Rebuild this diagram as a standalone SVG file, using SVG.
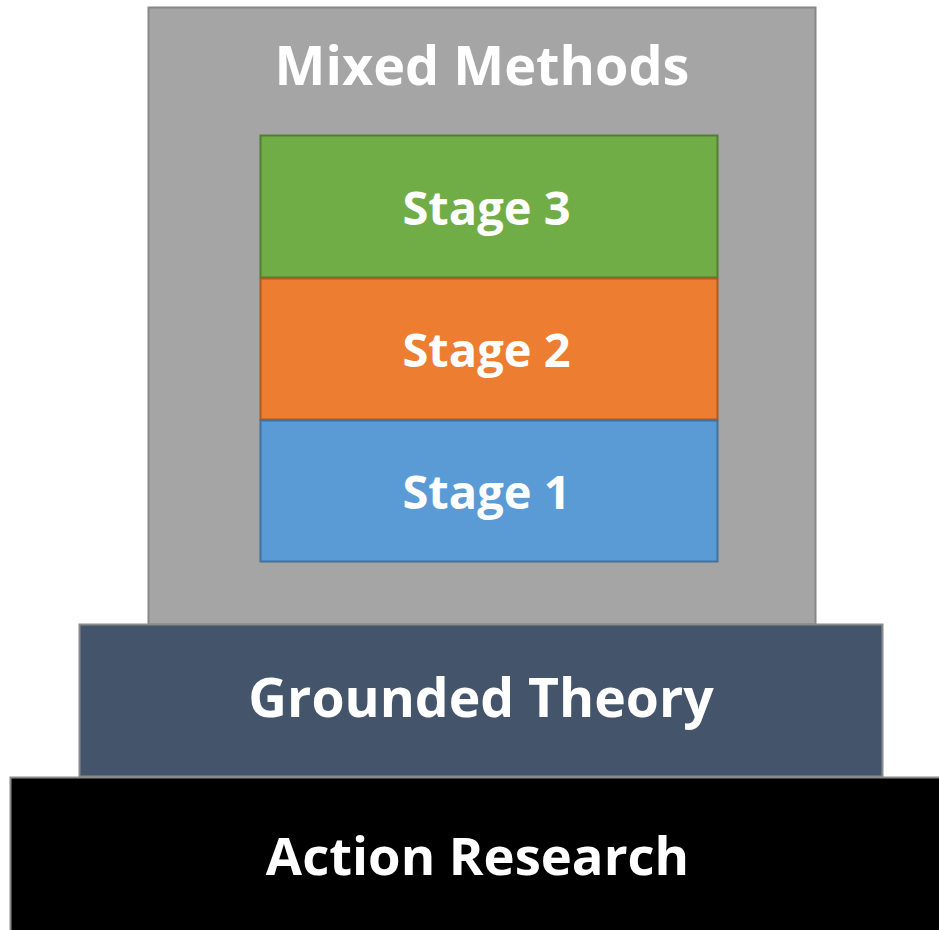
<svg xmlns="http://www.w3.org/2000/svg" width="939" height="930" viewBox="0 0 939 930">
  <style>
    .lbl { font-family: "Open Sans", "Liberation Sans", sans-serif; font-weight: bold; fill: #ffffff; text-anchor: middle; }
    .stage { font-size: 47px; }
  </style>
  <rect width="939" height="930" fill="#ffffff"/>
  <g id="mixed-methods">
    <rect x="148.5" y="7.5" width="667" height="617" fill="#a5a5a5" stroke="#878787" stroke-width="2"/>
    <text class="lbl" x="482" y="85" font-size="54">Mixed Methods</text>
  </g>
  <g id="stage-3">
    <rect x="260.5" y="135.5" width="457" height="142" fill="#70ad47" stroke="#507e32" stroke-width="2"/>
    <text class="lbl stage" x="486.5" y="225">Stage 3</text>
  </g>
  <g id="stage-2">
    <rect x="260.5" y="278.5" width="457" height="141" fill="#ed7d31" stroke="#ae5a21" stroke-width="2"/>
    <text class="lbl stage" x="486.5" y="367">Stage 2</text>
  </g>
  <g id="stage-1">
    <rect x="260.5" y="420.5" width="457" height="141" fill="#5b9bd5" stroke="#41719c" stroke-width="2"/>
    <text class="lbl stage" x="486.5" y="509">Stage 1</text>
  </g>
  <g id="grounded-theory">
    <rect x="79.5" y="624.5" width="803" height="152" fill="#44546a" stroke="#8a8a8a" stroke-width="2"/>
    <text class="lbl" x="481" y="717" font-size="53.5">Grounded Theory</text>
  </g>
  <g id="action-research">
    <rect x="10.5" y="777.5" width="940" height="160" fill="#000000" stroke="#8a8a8a" stroke-width="2"/>
    <text class="lbl" x="477.5" y="875" font-size="52.6">Action Research</text>
  </g>
  <g id="connectors"></g>
</svg>
